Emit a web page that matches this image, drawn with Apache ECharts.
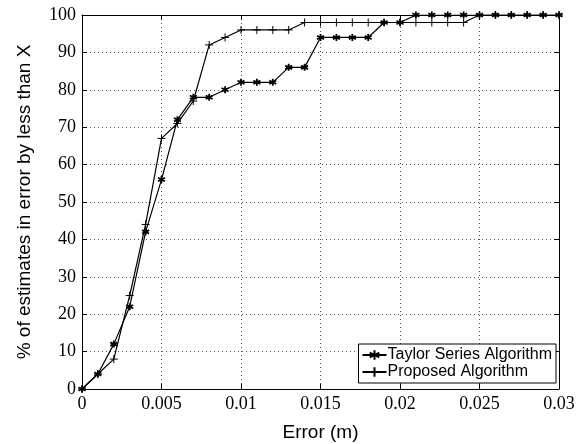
<!DOCTYPE html>
<html><head><meta charset="utf-8">
<script src="https://cdn.jsdelivr.net/npm/echarts@6/dist/echarts.min.js"></script>
<style>html,body{margin:0;padding:0;background:#fff}#c{width:579px;height:444px}</style>
</head><body><div id="c"></div>
<script>
const errorX = [0,0.001,0.002,0.003,0.004,0.005,0.006,0.007,0.008,0.009,0.010,0.011,0.012,0.013,0.014,0.015,0.016,0.017,0.018,0.019,0.020,0.021,0.022,0.023,0.024,0.025,0.026,0.027,0.028,0.029,0.030];
const taylor = [0,4,12,22,42,56,72,78,78,80,82,82,82,86,86,94,94,94,94,98,98,100,100,100,100,100,100,100,100,100,100];
const proposed = [0,4,8,25,44,67,71,77,92,94,96,96,96,96,98,98,98,98,98,98,98,98,98,98,98,100,100,100,100,100,100];
const xTicks = ['0','0.005','0.01','0.015','0.02','0.025','0.03'];

const starPath = 'path://M5 0L5 10M0.7 2.5L9.3 7.5M0.7 7.5L9.3 2.5';
const plusPath = 'path://M5 0L5 10M0 5L10 5';
const serif = '"Liberation Serif","Times New Roman",serif';
const sans = '"Liberation Sans",Arial,sans-serif';

const chart = echarts.init(document.getElementById('c'), null, {renderer:'canvas'});
const axisCommon = {
  axisLine:{show:true,onZero:false,lineStyle:{color:'#000',width:1}},
  axisTick:{show:true,inside:true,length:5,lineStyle:{color:'#000'}},
};
chart.setOption({
  animation:false,
  backgroundColor:'#fff',
  grid:{left:82,right:20,top:15,bottom:55,show:false,containLabel:false,outerBoundsMode:'none'},
  legend:{
    orient:'vertical', right:23, bottom:61,
    backgroundColor:'#fff', borderColor:'#000', borderWidth:1,
    padding:[3,4,3,3], itemGap:1, itemWidth:24, itemHeight:12,
    textStyle:{fontFamily:sans,fontSize:16,color:'#000',lineHeight:15,padding:[0,0,0,-4]},
    data:['Taylor Series Algorithm','Proposed Algorithm']
  },
  xAxis:[{
    type:'value',min:0,max:0.03,interval:0.005,
    ...axisCommon,
    axisLabel:{fontFamily:serif,fontSize:18,color:'#000',margin:6,
      formatter:(v)=>{const i=Math.round(v/0.005);return xTicks[i]!==undefined?xTicks[i]:'';}},
    splitLine:{show:true,lineStyle:{color:'#555',type:[1,3],width:1}},
    name:'Error (m)',nameLocation:'middle',nameGap:34,
    nameTextStyle:{fontFamily:sans,fontSize:19,color:'#000'}
  },{
    type:'value',min:0,max:0.03,interval:0.005,position:'top',
    ...axisCommon,axisLabel:{show:false},splitLine:{show:false}
  }],
  yAxis:[{
    type:'value',min:0,max:100,interval:10,
    ...axisCommon,
    axisLabel:{fontFamily:serif,fontSize:18,color:'#000',margin:6},
    splitLine:{show:true,lineStyle:{color:'#555',type:[1,3],width:1}},
    name:'% of estimates in error by less than X',nameLocation:'middle',nameGap:48,
    nameTextStyle:{fontFamily:sans,fontSize:19,color:'#000'}
  },{
    type:'value',min:0,max:100,interval:10,position:'right',
    ...axisCommon,axisLabel:{show:false},splitLine:{show:false}
  }],
  series:[{
    name:'Taylor Series Algorithm',type:'line',
    data:errorX.map((x,i)=>[x,taylor[i]]),
    symbol:starPath,symbolSize:7,showAllSymbol:true,
    lineStyle:{color:'#000',width:1.2},
    itemStyle:{color:'#000',borderColor:'#000',borderWidth:1.8},
    z:3
  },{
    name:'Proposed Algorithm',type:'line',
    data:errorX.map((x,i)=>[x,proposed[i]]),
    symbol:plusPath,symbolSize:8,showAllSymbol:true,
    lineStyle:{color:'#000',width:1.2},
    itemStyle:{color:'#000',borderColor:'#000',borderWidth:1},
    z:2
  }]
});
</script></body></html>
